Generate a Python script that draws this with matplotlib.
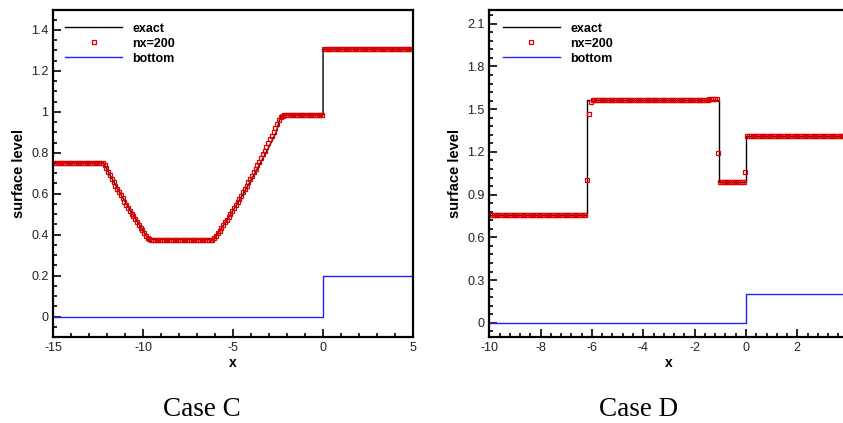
import numpy as np
import matplotlib
matplotlib.use("Agg")
import matplotlib.pyplot as plt
from matplotlib.ticker import MultipleLocator, FormatStrFormatter, FixedLocator

plt.rcParams['font.family'] = ['Liberation Sans', 'DejaVu Sans']
plt.rcParams['axes.unicode_minus'] = False

# ---- Case C: dam break over a step, domain [-15, 5], 200 cells ----
xc_num = np.linspace(-14.95, 4.95, 200)
hc_num = ([0.75] * 27
          + [0.748, 0.741, 0.724, 0.707, 0.690, 0.673, 0.657, 0.640, 0.624,
             0.608, 0.593, 0.577, 0.562, 0.547, 0.532, 0.517, 0.503, 0.489,
             0.475, 0.461, 0.447, 0.434, 0.421, 0.408, 0.395, 0.383, 0.377]
          + [0.376] * 33
          + [0.372, 0.372]
          + [0.382, 0.394, 0.407, 0.420, 0.433, 0.446, 0.460, 0.474, 0.488,
             0.502, 0.516, 0.531, 0.546, 0.561, 0.576, 0.591, 0.607, 0.623,
             0.639, 0.655, 0.671, 0.688, 0.704, 0.721, 0.738, 0.756, 0.774,
             0.792, 0.810, 0.828, 0.846, 0.865, 0.884, 0.903, 0.922, 0.941,
             0.960, 0.975, 0.982]
          + [0.984] * 22
          + [1.306] * 50)

xc_exact = [-15, -12.2, -11.7, -11.2, -10.7, -10.2, -9.7, -6.1, -5.6, -5.1,
            -4.6, -4.1, -3.6, -3.1, -2.6, -2.35, 0, 0, 5]
hc_exact = [0.75, 0.75, 0.668, 0.590, 0.517, 0.447, 0.376, 0.376, 0.438, 0.505,
            0.576, 0.651, 0.730, 0.813, 0.901, 0.984, 0.984, 1.306, 1.306]
xc_bot = [-15, 0, 0, 5]
bc_bot = [0, 0, 0.2, 0.2]
xc_ticks = [-15, -10, -5, 0, 5]

# ---- Case D: domain [-10, 4], 200 cells ----
xd_num = np.linspace(-9.965, 3.965, 200)
hd_num = ([0.754] * 54
          + [1.004, 1.463, 1.552]
          + [1.566] * 65
          + [1.570] * 5
          + [1.194]
          + [0.992] * 14
          + [1.058]
          + [1.31] * 57)

xd_exact = [-10, -6.21, -6.21, -1.05, -1.05, 0, 0, 4]
hd_exact = [0.754, 0.754, 1.566, 1.566, 0.99, 0.99, 1.31, 1.31]
xd_bot = [-10, 0, 0, 4]
bd_bot = [0, 0, 0.2, 0.2]
xd_ticks = [-10, -8, -6, -4, -2, 0, 2]  # the 4 label falls off the crop

fig = plt.figure(figsize=(8.43, 4.23), dpi=100)
ax1 = fig.add_axes([0.0632, 0.2033, 0.4267, 0.7742])
ax2 = fig.add_axes([0.5804, 0.2033, 0.4263, 0.7742])

panels = [
    (ax1, xc_exact, hc_exact, xc_num, hc_num, xc_bot, bc_bot,
     (-15, 5), (-0.1, 1.5), xc_ticks, 1, 0.2, 0.05, 0.032),
    (ax2, xd_exact, hd_exact, xd_num, hd_num, xd_bot, bd_bot,
     (-10, 4), (-0.1, 2.2), xd_ticks, 0.4, 0.3, 0.06, 0.037),
]

for (ax, xe, he, xn, hn, xb, bb, xl, yl, xt, xmin, ymaj, ymin, legx) in panels:
    ax.plot(xe, he, color='black', lw=1.0, label='exact')
    ax.plot(xn, hn, ls='none', marker='s', ms=3.2, mfc='none', mec='#dd0000',
            mew=0.9, label='nx=200')
    ax.plot(xb, bb, color='#2020ff', lw=1.0, label='bottom')
    ax.set_xlim(*xl)
    ax.set_ylim(*yl)
    ax.xaxis.set_major_locator(FixedLocator(xt))
    ax.xaxis.set_minor_locator(MultipleLocator(xmin))
    ax.yaxis.set_major_locator(MultipleLocator(ymaj))
    ax.yaxis.set_minor_locator(MultipleLocator(ymin))
    ax.xaxis.set_major_formatter(FormatStrFormatter('%g'))
    ax.yaxis.set_major_formatter(FormatStrFormatter('%g'))
    ax.tick_params(which='both', direction='in', top=False, right=False,
                   labelsize=9, labelcolor='#222222', width=1.2)
    ax.tick_params(which='major', length=6)
    ax.tick_params(which='minor', length=3)
    for s in ax.spines.values():
        s.set_linewidth(1.6)
    ax.set_xlabel('x', fontsize=10, fontweight='bold')
    ax.set_ylabel('surface level', fontsize=10.5, fontweight='bold')
    ax.xaxis.set_label_coords(0.5, -0.058)
    ax.yaxis.set_label_coords(-0.075, 0.5)
    ax.legend(loc='upper left', bbox_to_anchor=(legx, 0.96), frameon=False,
              borderpad=0, borderaxespad=0, handlelength=4.6,
              handletextpad=0.8, labelspacing=0.25,
              prop={'weight': 'bold', 'size': 9})

fig.text(0.239, 0.033, 'Case C', ha='center', va='center',
         family=['Liberation Serif', 'DejaVu Serif'], fontsize=19.5)
fig.text(0.757, 0.033, 'Case D', ha='center', va='center',
         family=['Liberation Serif', 'DejaVu Serif'], fontsize=19.5)

fig.savefig('out.png', dpi=100)
